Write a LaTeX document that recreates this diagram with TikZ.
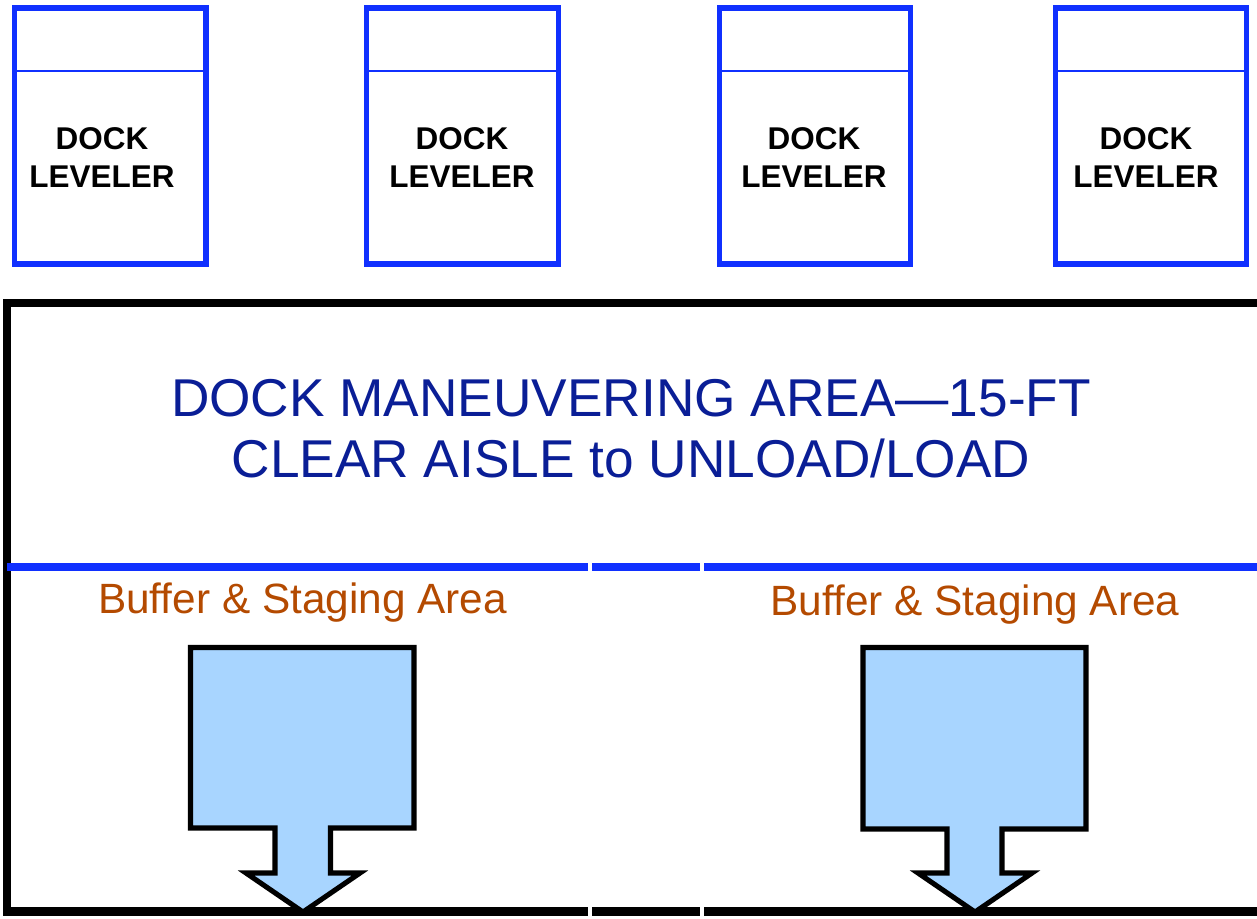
\documentclass[tikz,border=0pt]{standalone}
\usepackage{fontspec}
\setmainfont{Liberation Sans}
\definecolor{dockblue}{RGB}{16,48,255}
\definecolor{titleblue}{RGB}{10,30,150}
\definecolor{bufbrown}{RGB}{180,74,0}
\definecolor{arrowfill}{RGB}{168,213,255}
\tikzset{
  leveler/.style={draw=dockblue, line width=3.1pt, fill=white, inner sep=0pt, outer sep=0pt, minimum width=191.5*0.02cm, minimum height=256*0.02cm},
  divider/.style={draw=dockblue, line width=0.9pt},
  levtext/.style={font=\bfseries\fontsize{17.9}{22}\selectfont, align=center, inner sep=0pt},
  frameline/.style={draw=black, line width=4.6pt},
  bluesep/.style={draw=dockblue, line width=4.6pt},
  titletext/.style={text=titleblue, font=\fontsize{30.3}{34.6}\selectfont, align=center, inner sep=0pt},
  buftext/.style={text=bufbrown, font=\fontsize{24.1}{28}\selectfont, inner sep=0pt, anchor=base},
  bigarrow/.style={draw=black, fill=arrowfill, line width=2.9pt, line join=miter}
}
\begin{document}
\begin{tikzpicture}[x=0.02cm,y=-0.02cm]
\useasboundingbox (0,0) rectangle (1257,919);
% dock levelers
\foreach \n/\cx/\tx in {1/110.25/102, 2/462.5/462, 3/815/814, 4/1151/1146} {
  \node[leveler] (lev\n) at (\cx,136) {};
  \draw[divider] ([yshift=-63*0.02cm]lev\n.north west) -- ([yshift=-63*0.02cm]lev\n.north east);
  \node[levtext] (levt\n) at (\tx,157.5) {DOCK\\LEVELER};
}
% frame
\coordinate (ftr) at (1262,303);
\coordinate (ftl) at (7,303);
\coordinate (fbl) at (7,911.5);
\coordinate (fg1) at (588,911.5);
\coordinate (fg2) at (592,911.5);
\coordinate (fg3) at (700,911.5);
\coordinate (fg4) at (704,911.5);
\coordinate (fbr) at (1262,911.5);
\draw[frameline, line join=miter] (ftr) -- (ftl) -- (fbl) -- (fg1);
\draw[frameline] (fg2) -- (fg3);
\draw[frameline] (fg4) -- (fbr);
% blue separator
\coordinate (bl0) at (7,567);
\coordinate (bl1) at (588,567);
\coordinate (bl2) at (592,567);
\coordinate (bl3) at (700,567);
\coordinate (bl4) at (704,567);
\coordinate (bl5) at (1262,567);
\draw[bluesep] (bl0) -- (bl1);
\draw[bluesep] (bl2) -- (bl3);
\draw[bluesep] (bl4) -- (bl5);
% title
\node[titletext] (title) at (631,429) {DOCK MANEUVERING AREA\textemdash 15-FT\\CLEAR AISLE to UNLOAD/LOAD};
% buffer labels
\node[buftext] (buf1) at (302.5,613) {Buffer \& Staging Area};
\node[buftext] (buf2) at (975,615) {Buffer \& Staging Area};
% arrows
\draw[bigarrow] (190.5,647.5) -- (414,647.5) -- (414,828) -- (330.5,828) -- (330.5,873) -- (360,873) -- (303,912) -- (246,873) -- (275,873) -- (275,828) -- (190.5,828) -- cycle;
\draw[bigarrow] (863,647.5) -- (1086,647.5) -- (1086,829) -- (1002,829) -- (1002,873) -- (1032,873) -- (975,912) -- (918,873) -- (947,873) -- (947,829) -- (863,829) -- cycle;
\end{tikzpicture}
\end{document}
